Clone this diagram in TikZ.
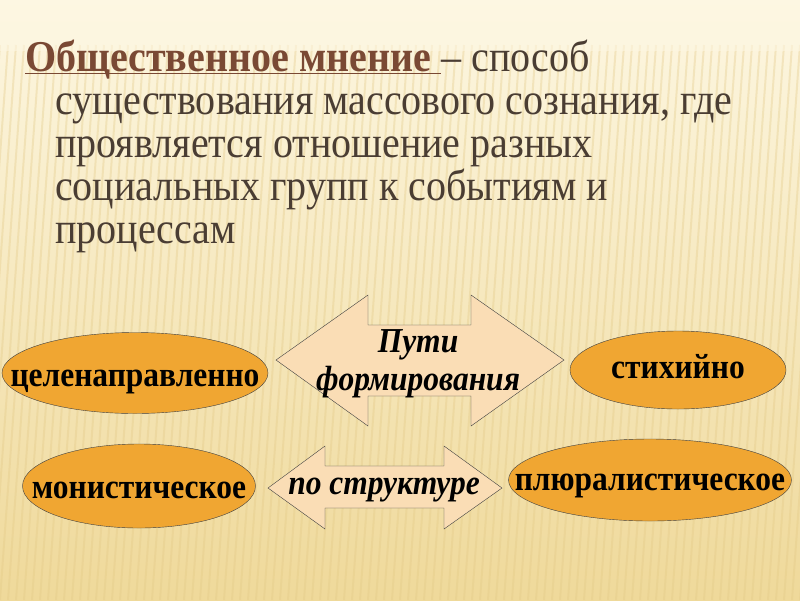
\documentclass[tikz,border=0pt]{standalone}
\usepackage{fontspec}
\setmainfont{Liberation Serif}
\newfontfamily\bodyfont{Liberation Serif}[FakeStretch=0.91]
\newfontfamily\nodefont{Liberation Serif}[FakeStretch=0.9]
\usetikzlibrary{shapes.geometric}

\definecolor{bgtop}{HTML}{FDF7E2}
\definecolor{bgmid}{HTML}{F6E5B5}
\definecolor{bgbot}{HTML}{EFD99A}
\definecolor{stripe}{HTML}{E3C986}
\definecolor{ovalfill}{HTML}{F0A632}
\definecolor{arrowfill}{HTML}{FADDB5}
\definecolor{headtext}{HTML}{7A4934}
\definecolor{bodytext}{HTML}{4A3D33}

\newcommand\ovaltext[2][11pt]{\makebox[0pt]{\raisebox{-#1}[0pt][0pt]{#2}}}

\begin{document}
\begin{tikzpicture}
  [x=1pt,y=-1pt,
   oval/.style={ellipse,draw=black!75,fill=ovalfill,inner sep=0pt,font=\nodefont\bfseries\fontsize{35}{36}\selectfont},
   dblarrow/.style={draw=black!75,fill=arrowfill,line join=miter},
   lbl/.style={align=center,inner sep=0pt,font=\nodefont\bfseries\itshape\fontsize{35}{38}\selectfont}]
  \useasboundingbox (0,0) rectangle (800,600);
  % background
  \shade[top color=bgtop,middle color=bgmid,bottom color=bgbot] (0,0) rectangle (800,600);
  \foreach \i in {0,8,...,860}
    \draw[stripe,opacity=.35,line width=2pt] (\i,45) -- (\i-40,600);
  \shade[top color=bgtop,bottom color=bgtop,opacity=.6] (0,0) rectangle (800,50);

  % definition
  \node[anchor=north west,align=left,inner sep=0pt,text=bodytext,
        font=\bodyfont\fontsize{44}{43}\selectfont] (defn) at (25,40)
    {\textcolor{headtext}{\bfseries\underline{\smash{Общественное мнение }}}– способ\\
     \hspace*{30pt}существования массового сознания, где\\
     \hspace*{30pt}проявляется отношение разных\\
     \hspace*{30pt}социальных групп к событиям и\\
     \hspace*{30pt}процессам};

  % double arrows
  \draw[dblarrow] (276,360) -- (368,295) -- (368,325) -- (471,325) -- (471,295)
    -- (564,360) -- (471,426) -- (471,396) -- (368,396) -- (368,426) -- cycle;
  \node[lbl] (ways) at (418,364) {Пути\\формирования};

  \draw[dblarrow] (268,488) -- (325,446) -- (325,466) -- (444,466) -- (444,446)
    -- (502,488) -- (444,529) -- (444,508) -- (325,508) -- (325,529) -- cycle;
  \node[lbl] (struct) at (384,490) {по структуре};

  % ovals
  \node[oval,minimum width=266,minimum height=81] (goal) at (135,373) {\ovaltext[13pt]{целенаправленно}};
  \node[oval,minimum width=216,minimum height=78] (spont) at (678,370) {\ovaltext[8pt]{стихийно}};
  \node[oval,minimum width=233,minimum height=84] (mono) at (139,486) {\ovaltext[12pt]{монистическое}};
  \node[oval,minimum width=283,minimum height=82] (plur) at (650,480) {\ovaltext[10pt]{плюралистическое}};
\end{tikzpicture}
\end{document}
